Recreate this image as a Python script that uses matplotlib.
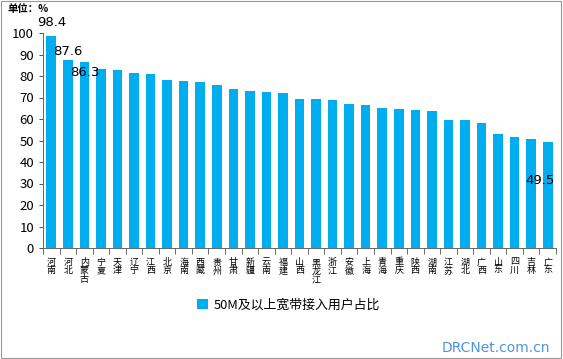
import numpy as np
import matplotlib
matplotlib.use("Agg")
import matplotlib.pyplot as plt

plt.rcParams['font.family'] = ['Noto Sans CJK SC', 'DejaVu Sans']

provinces = ['河南', '河北', '内蒙古', '宁夏', '天津', '辽宁', '江西', '北京', '海南', '西藏',
             '贵州', '甘肃', '新疆', '云南', '福建', '山西', '黑龙江', '浙江', '安徽', '上海',
             '青海', '重庆', '陕西', '湖南', '江苏', '湖北', '广西', '山东', '四川', '吉林', '广东']
share = [98.4, 87.6, 86.3, 83.2, 82.6, 81.2, 80.8, 78.3, 77.6, 77.1,
         75.6, 74.0, 73.0, 72.6, 72.1, 69.4, 69.4, 69.0, 67.0, 66.6,
         65.2, 64.6, 64.2, 63.8, 59.6, 59.5, 58.3, 53.1, 51.4, 50.9, 49.5]
yticks = list(range(0, 101, 10))

# labelled bars: index -> (x shift, y position)
labels = {0: (0.0, 105.0), 1: (0.0, 91.3), 2: (0.0, 81.4), 30: (-0.45, 31.6)}

bar_color = '#00AEEF'

fig = plt.figure(figsize=(5.63, 3.59), dpi=100)
ax = fig.add_axes([43 / 563, 1 - 248 / 359, 513 / 563, 215 / 359])

x = np.arange(len(provinces))
ax.bar(x, share, width=0.58, color=bar_color, label='50M及以上宽带接入用户占比', zorder=2)

ax.set_xlim(-0.5, len(provinces) - 0.5)
ax.set_ylim(0, 100)
ax.set_yticks(yticks)
ax.tick_params(axis='y', labelsize=9.5, length=3, direction='out', width=0.6, colors='#333333', labelcolor='black')
ax.set_xticks(x)
ax.set_xticklabels(['\n'.join(p) for p in provinces], fontsize=6.5, linespacing=0.95, va='top')
ax.set_xticks(np.arange(-0.5, len(provinces)), minor=True)
ax.tick_params(axis='x', which='major', length=0, pad=7)
ax.tick_params(axis='x', which='minor', length=4, width=0.6, colors='#555555')

for side in ['top', 'right']:
    ax.spines[side].set_visible(False)
for side in ['left', 'bottom']:
    ax.spines[side].set_linewidth(0.7)
    ax.spines[side].set_color('#666666')

for i, (dx, yy) in labels.items():
    ax.text(x[i] + dx, yy, f'{share[i]:.1f}', ha='center', va='center', fontsize=9.5,
            family='DejaVu Sans', clip_on=False)

fig.text(8 / 563, 1 - 9 / 359, '单位：%', fontsize=7.5, fontweight='bold', va='center', ha='left')

fig.legend(loc='center', bbox_to_anchor=(0.513, 1 - 305 / 359), frameon=False,
           fontsize=9.3, handlelength=0.8, handleheight=0.8, handletextpad=0.5)

fig.text(550 / 563, 1 - 348 / 359, 'DRCNet.com.cn', fontsize=10, color='#4F94D9',
         ha='right', va='center', family='DejaVu Sans')

# outer border
fig.patches.append(plt.Rectangle((0.002, 0.003), 0.995, 0.994, transform=fig.transFigure,
                                 fill=False, edgecolor='#999999', linewidth=0.8))

fig.savefig('out.png', dpi=100)
